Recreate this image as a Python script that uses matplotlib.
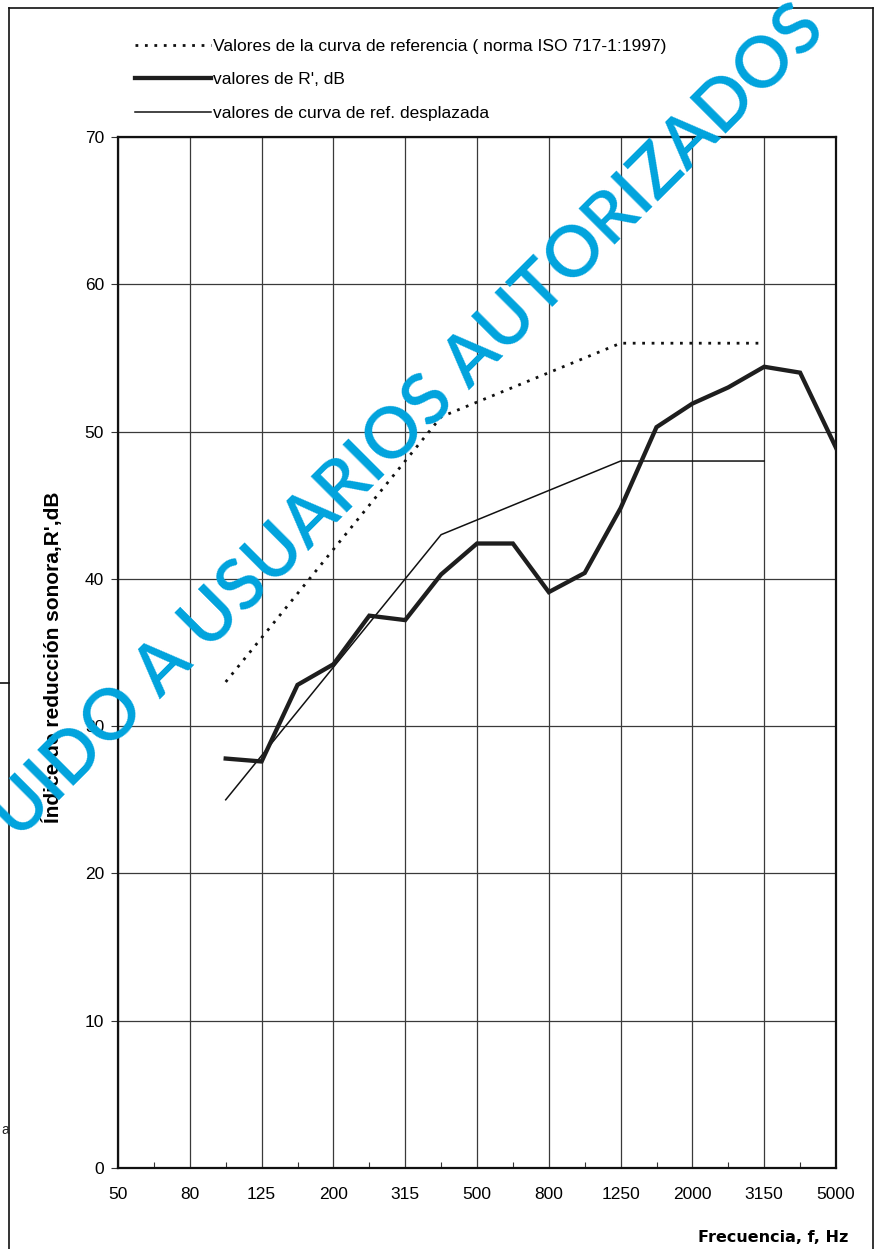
import matplotlib.pyplot as plt
from matplotlib.lines import Line2D
import numpy as np

# Third-octave band centre frequencies (Hz)
freq_labels = ["50", "63", "80", "100", "125", "160", "200", "250", "315", "400",
               "500", "630", "800", "1000", "1250", "1600", "2000", "2500",
               "3150", "4000", "5000"]

# Measured R' values, 100 Hz .. 5000 Hz
r_prime = [27.8, 27.6, 32.8, 34.2, 37.5, 37.2, 40.3, 42.4, 42.4, 39.1,
           40.4, 44.8, 50.3, 51.9, 53.0, 54.4, 54.0, 48.9]

# ISO 717-1 reference curve, 100 Hz .. 3150 Hz
ref_curve = [33, 36, 39, 42, 45, 48, 51, 52, 53, 54, 55, 56, 56, 56, 56, 56]

# Reference curve after shifting, 100 Hz .. 3150 Hz
ref_shifted = [25, 28, 31, 34, 37, 40, 43, 44, 45, 46, 47, 48, 48, 48, 48, 48]

y_ticks = [0, 10, 20, 30, 40, 50, 60, 70]

NARROW = ["Liberation Sans Narrow", "Liberation Sans", "DejaVu Sans"]
W, H = 875, 1249

fig = plt.figure(figsize=(W / 100, H / 100), dpi=100)
fig.patch.set_facecolor("white")

ax_left, ax_right, ax_top, ax_bottom = 118, 836, 137, 1168
ax = fig.add_axes([ax_left / W, 1 - ax_bottom / H,
                   (ax_right - ax_left) / W, (ax_bottom - ax_top) / H])

start = freq_labels.index("100")
x_meas = np.arange(start, start + len(r_prime))
x_ref = np.arange(start, start + len(ref_curve))

ax.plot(x_ref, ref_curve, color="#111111", lw=2.0, linestyle=(0, (1.0, 2.4)),
        dash_capstyle="butt", label="Valores de la curva de referencia ( norma ISO 717-1:1997)",
        zorder=3)
ax.plot(x_meas, r_prime, color="#1e1e1e", lw=3.1, solid_joinstyle="miter",
        label="valores de R', dB", zorder=4)
ax.plot(x_ref, ref_shifted, color="#111111", lw=1.1,
        label="valores de curva de ref. desplazada", zorder=3)

ax.set_xlim(0, len(freq_labels) - 1)
ax.set_ylim(0, 70)

major_x = np.arange(0, len(freq_labels), 2)
ax.set_xticks(major_x)
ax.set_xticklabels([freq_labels[i] for i in major_x], family=NARROW, fontsize=12.5)
ax.set_xticks(np.arange(1, len(freq_labels), 2), minor=True)
ax.tick_params(axis="x", which="major", length=0, pad=14)
ax.tick_params(axis="x", which="minor", direction="in", length=4, width=0.8,
               color="#333333")

ax.set_yticks(y_ticks)
ax.set_yticklabels([str(v) for v in y_ticks], family=NARROW, fontsize=12.5)
ax.tick_params(axis="y", which="major", direction="out", length=5, width=0.8,
               pad=5, color="#333333")

ax.grid(True, which="major", color="#3a3a3a", lw=0.9)
for side in ax.spines.values():
    side.set_linewidth(1.6)
    side.set_color("#111111")

ax.set_ylabel("Índice de reducción sonora,R',dB", fontsize=15, fontweight="bold",
              family=NARROW)
ax.yaxis.set_label_coords(-0.077, 0.495)

fig.text(848 / W, 1 - 1238 / H, "Frecuencia, f, Hz", ha="right", va="center",
         fontsize=11.5, fontweight="bold", family=["DejaVu Sans"])

fig.legend(loc="upper left", bbox_to_anchor=(128 / W, 1 - 32 / H), frameon=False,
           prop={"family": NARROW, "size": 12.5}, handlelength=4.4,
           handletextpad=0.1, labelspacing=1.05, borderaxespad=0)

# page border and scraps from the facing page
border = dict(color="#111111", lw=1.2, transform=fig.transFigure)
fig.add_artist(Line2D([9 / W, 873 / W], [1 - 8 / H, 1 - 8 / H], **border))
fig.add_artist(Line2D([9 / W, 9 / W], [0, 1 - 8 / H], **border))
fig.add_artist(Line2D([873 / W, 873 / W], [0, 1 - 8 / H], **border))
fig.add_artist(Line2D([0, 9 / W], [1 - 683 / H, 1 - 683 / H], **border))
fig.text(1 / W, 1 - 1130 / H, "a", fontsize=10, ha="left", va="center",
         family=NARROW, color="#222222")

# watermark
fig.text(828 / W, 1 - 32 / H, "UIDO A USUARIOS AUTORIZADOS", rotation=45,
         rotation_mode="anchor", ha="right", va="baseline", fontsize=51,
         fontweight=600, color="#00a3dd", family=["Lato", "DejaVu Sans"], zorder=10)

fig.savefig("out.png", dpi=100)
